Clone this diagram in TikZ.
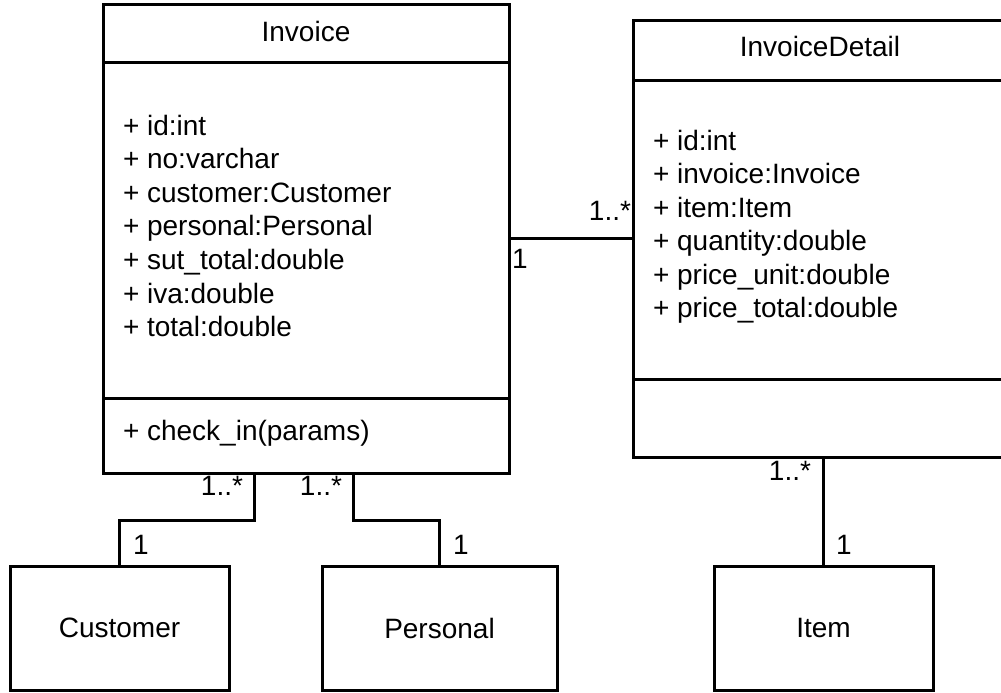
\documentclass[tikz,border=0pt]{standalone}
\usepackage{fontspec}
\setmainfont{Liberation Sans}
\begin{document}
\begin{tikzpicture}[x=1pt,y=-1pt,
  umlbox/.style={draw=black,line width=3pt,fill=white,inner sep=0pt,outer sep=0pt},
  conn/.style={draw=black,line width=3pt},
  txt/.style={inner sep=0pt,outer sep=0pt,font=\fontsize{28}{33.6}\selectfont},
  attr/.style={txt,anchor=base west},
  mult/.style={txt}]
\useasboundingbox (0,0) rectangle (1001,693);
\clip (0,0) rectangle (1001,693);
\fill[white] (0,0) rectangle (1001,693);

% Invoice class
\node[umlbox,minimum width=406pt,minimum height=468pt] (inv) at (306,239) {};
\draw[conn] (inv.west |- 0,63) -- (inv.east |- 0,63);
\draw[conn] (inv.west |- 0,398) -- (inv.east |- 0,398);
\node[txt,anchor=base] (invt) at (306,42) {Invoice};
\foreach \t [count=\i] in {+ id:int, + no:varchar, + customer:Customer, + personal:Personal, + sut\_total:double, + iva:double, + total:double}
  \node[attr] (ia\i) at (123,{135+33.6*(\i-1)}) {\t};
\node[attr] (im1) at (123,440) {+ check\_in(params)};

% InvoiceDetail class
\node[umlbox,minimum width=374pt,minimum height=436pt] (det) at (820,239) {};
\draw[conn] (det.west |- 0,80) -- (det.east |- 0,80);
\draw[conn] (det.west |- 0,379) -- (det.east |- 0,379);
\node[txt,anchor=base] (dett) at (820,57) {InvoiceDetail};
\foreach \t [count=\i] in {+ id:int, + invoice:Invoice, + item:Item, + quantity:double, + price\_unit:double, + price\_total:double}
  \node[attr] (da\i) at (653,{150+33.5*(\i-1)}) {\t};

% Simple classes
\node[umlbox,minimum width=219pt,minimum height=124pt] (cust) at (119.5,628) {};
\node[txt] (custt) at (cust.center) {Customer};
\node[umlbox,minimum width=235pt,minimum height=124pt] (pers) at (439.5,628) {};
\node[txt] (perst) at (pers.center) {Personal};
\node[umlbox,minimum width=219pt,minimum height=124pt] (item) at (823.5,628) {};
\node[txt] (itemt) at (item.center) {Item};

% Connectors
\draw[conn] (inv.east |- 0,238) -- (det.west |- 0,238);
\draw[conn] (254,0 |- inv.south) -- ++(0,47) -| (cust.north);
\draw[conn] (353,0 |- inv.south) -- ++(0,47) -| (pers.north);
\draw[conn] (item.north |- det.south) -- (item.north);

% Multiplicities
\node[mult,anchor=base east] (m1) at (631,220) {1..*};
\node[mult,anchor=base west] (m2) at (512,268) {1};
\node[mult,anchor=base east] (m3) at (243,495) {1..*};
\node[mult,anchor=base east] (m4) at (342,495) {1..*};
\node[mult,anchor=base west] (m5) at (133,554) {1};
\node[mult,anchor=base west] (m6) at (453,554) {1};
\node[mult,anchor=base east] (m7) at (811,480) {1..*};
\node[mult,anchor=base west] (m8) at (836,554) {1};
\end{tikzpicture}
\end{document}
